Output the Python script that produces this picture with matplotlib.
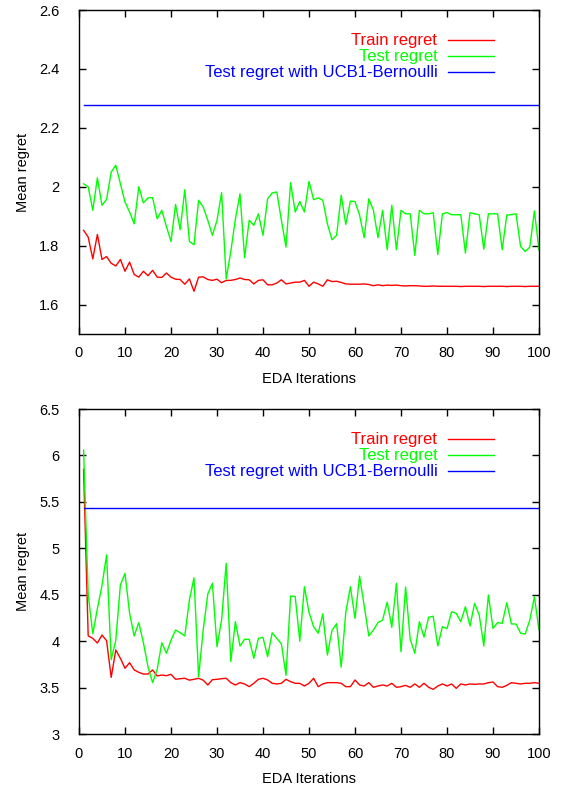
import numpy as np
import matplotlib
matplotlib.use('Agg')
import matplotlib.pyplot as plt

plt.rcParams['font.family'] = ['Liberation Sans', 'DejaVu Sans']

# EDA iterations 1..100
iterations = list(range(1, 101))

# Top panel
top_train = [1.852, 1.829, 1.755, 1.838, 1.753, 1.763, 1.740, 1.731, 1.753, 1.713,
             1.744, 1.702, 1.693, 1.713, 1.698, 1.716, 1.693, 1.692, 1.707, 1.693,
             1.686, 1.685, 1.669, 1.687, 1.645, 1.693, 1.694, 1.685, 1.682, 1.686,
             1.674, 1.682, 1.682, 1.685, 1.690, 1.685, 1.684, 1.670, 1.682, 1.684,
             1.667, 1.667, 1.673, 1.684, 1.670, 1.673, 1.676, 1.676, 1.682, 1.662,
             1.676, 1.670, 1.662, 1.684, 1.678, 1.679, 1.675, 1.670, 1.669, 1.669,
             1.669, 1.670, 1.668, 1.664, 1.667, 1.664, 1.666, 1.665, 1.666, 1.664,
             1.663, 1.664, 1.664, 1.663, 1.662, 1.662, 1.663, 1.662, 1.662, 1.662,
             1.662, 1.662, 1.661, 1.662, 1.662, 1.662, 1.662, 1.661, 1.662, 1.662,
             1.662, 1.662, 1.661, 1.662, 1.662, 1.662, 1.661, 1.662, 1.662, 1.662]
top_test = [2.010, 2.000, 1.920, 2.030, 1.937, 1.957, 2.050, 2.073, 2.010, 1.948,
            1.914, 1.874, 2.000, 1.945, 1.962, 1.963, 1.891, 1.920, 1.865, 1.814,
            1.940, 1.854, 1.990, 1.814, 1.803, 1.954, 1.931, 1.886, 1.835, 1.886,
            1.980, 1.687, 1.780, 1.890, 1.976, 1.759, 1.886, 1.869, 1.908, 1.835,
            1.959, 1.979, 1.982, 1.886, 1.795, 2.014, 1.914, 1.950, 1.914, 2.018,
            1.956, 1.962, 1.954, 1.874, 1.820, 1.835, 1.971, 1.872, 1.951, 1.950,
            1.903, 1.827, 1.959, 1.920, 1.827, 1.920, 1.786, 1.937, 1.786, 1.920,
            1.908, 1.908, 1.767, 1.920, 1.908, 1.908, 1.912, 1.770, 1.908, 1.912,
            1.905, 1.905, 1.905, 1.775, 1.912, 1.908, 1.905, 1.788, 1.908, 1.908,
            1.908, 1.786, 1.904, 1.905, 1.908, 1.797, 1.780, 1.795, 1.918, 1.784]
top_ucb = 2.276

# Bottom panel
bot_train = [5.850, 4.056, 4.030, 3.980, 4.066, 4.005, 3.610, 3.905, 3.815, 3.708,
             3.768, 3.690, 3.664, 3.646, 3.646, 3.690, 3.625, 3.635, 3.628, 3.643,
             3.589, 3.596, 3.600, 3.580, 3.589, 3.600, 3.580, 3.528, 3.585, 3.589,
             3.596, 3.600, 3.553, 3.528, 3.553, 3.539, 3.510, 3.546, 3.589, 3.600,
             3.582, 3.546, 3.539, 3.546, 3.589, 3.564, 3.546, 3.546, 3.517, 3.546,
             3.600, 3.510, 3.539, 3.553, 3.553, 3.553, 3.546, 3.510, 3.510, 3.582,
             3.528, 3.517, 3.553, 3.503, 3.517, 3.528, 3.517, 3.546, 3.503, 3.510,
             3.524, 3.503, 3.539, 3.503, 3.546, 3.503, 3.481, 3.517, 3.539, 3.517,
             3.539, 3.492, 3.539, 3.528, 3.539, 3.535, 3.539, 3.539, 3.553, 3.560,
             3.510, 3.503, 3.524, 3.553, 3.546, 3.539, 3.546, 3.546, 3.553, 3.546]
bot_test = [6.058, 4.500, 4.080, 4.350, 4.600, 4.930, 3.800, 4.010, 4.605, 4.730,
            4.300, 4.056, 4.200, 3.983, 3.725, 3.553, 3.697, 3.983, 3.869, 4.010,
            4.120, 4.090, 4.056, 4.443, 4.683, 3.617, 4.120, 4.508, 4.623, 3.940,
            4.228, 4.838, 3.780, 4.210, 3.948, 4.020, 4.020, 3.815, 4.030, 4.040,
            3.833, 4.090, 4.030, 3.970, 3.632, 4.486, 4.480, 4.000, 4.587, 4.310,
            4.156, 4.085, 4.295, 3.850, 4.115, 4.188, 3.720, 4.310, 4.587, 4.246,
            4.700, 4.380, 4.056, 4.120, 4.200, 4.228, 4.420, 4.149, 4.623, 3.886,
            4.583, 4.020, 3.869, 4.210, 4.044, 4.258, 4.268, 3.948, 4.156, 4.135,
            4.317, 4.300, 4.210, 4.371, 4.163, 4.407, 4.282, 3.948, 4.497, 4.138,
            4.200, 4.192, 4.414, 4.185, 4.185, 4.085, 4.077, 4.228, 4.479, 4.120]
bot_ucb = 5.43

panels = [
    (top_train, top_test, top_ucb, (1.5, 2.6), [1.6, 1.8, 2.0, 2.2, 2.4, 2.6], ['1.6', '1.8', '2', '2.2', '2.4', '2.6']),
    (bot_train, bot_test, bot_ucb, (3.0, 6.5), [3, 3.5, 4, 4.5, 5, 5.5, 6, 6.5], ['3', '3.5', '4', '4.5', '5', '5.5', '6', '6.5']),
]
x_ticks = list(range(0, 101, 10))

fig = plt.figure(figsize=(5.61, 7.89), dpi=100)

boxes = [[0.1408, 0.5767, 0.82, 0.4106], [0.1408, 0.0697, 0.82, 0.4119]]

for box, (train, test, ucb, ylim, yt, ytl) in zip(boxes, panels):
    ax = fig.add_axes(box)
    ax.plot(iterations, train, color='#ff0000', lw=1.0, label='Train regret')
    ax.plot(iterations, test, color='#00ff00', lw=1.0, label='Test regret')
    ax.plot([1, 100], [ucb, ucb], color='#0000ff', lw=1.0, label='Test regret with UCB1-Bernoulli')
    ax.set_xlim(0, 100)
    ax.set_ylim(*ylim)
    ax.set_xticks(x_ticks)
    ax.set_yticks(yt)
    ax.set_yticklabels(ytl)
    ax.tick_params(direction='in', length=5, width=1, top=True, right=True, labelsize=10.5)
    ax.tick_params(axis='y', pad=14)
    ax.tick_params(axis='x', pad=9)
    for s in ax.spines.values():
        s.set_linewidth(1.0)
    ax.set_xlabel('EDA Iterations', fontsize=10.5, labelpad=8)
    ax.set_ylabel('Mean regret', fontsize=10.5, labelpad=7)
    leg = ax.legend(loc='upper right', bbox_to_anchor=(0.902, 0.928), frameon=False,
                    markerfirst=False, labelcolor='linecolor', fontsize=12,
                    handlelength=2.75, handletextpad=0.65, labelspacing=0.06,
                    borderaxespad=0, borderpad=0)
    for t in leg.get_texts():
        t.set_ha('right')

fig.savefig('out.png', dpi=100)
